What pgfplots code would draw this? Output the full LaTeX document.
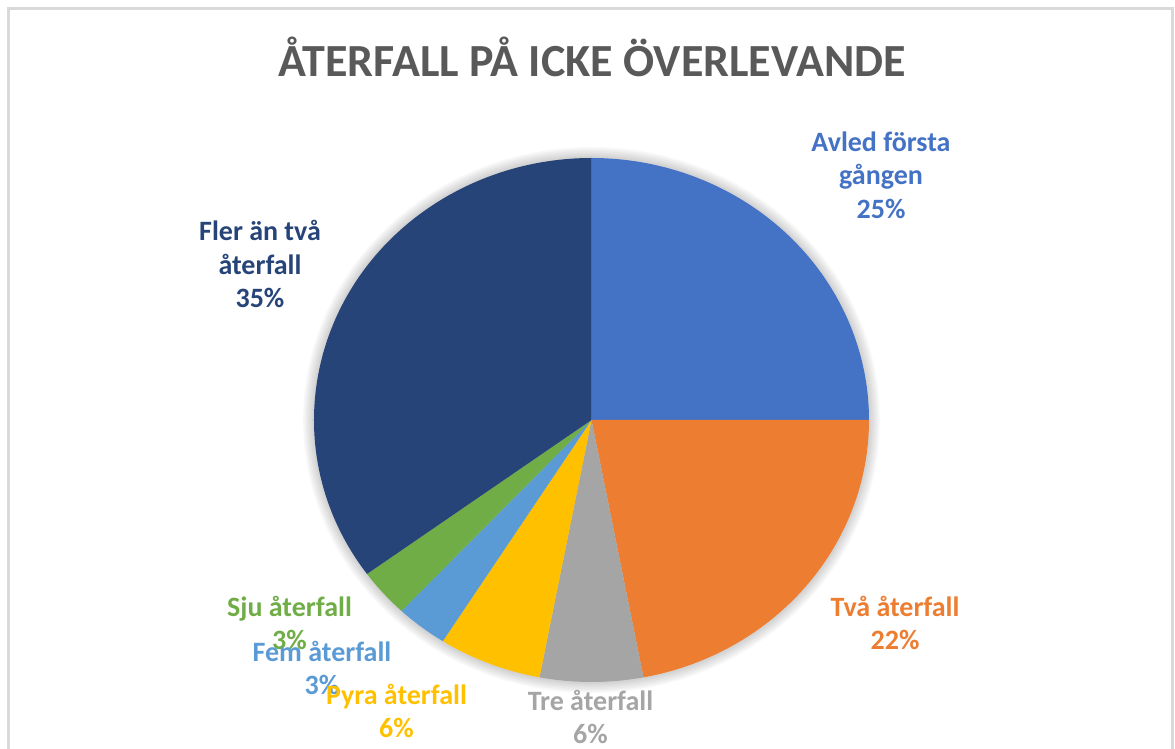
\documentclass[border=0pt]{standalone}
\usepackage{fontspec}
\setmainfont{Carlito}
\usepackage{pgfplots}
\pgfplotsset{compat=1.18}
\definecolor{slA}{HTML}{4472C4}
\definecolor{slB}{HTML}{ED7D31}
\definecolor{slC}{HTML}{A5A5A5}
\definecolor{slD}{HTML}{FFC000}
\definecolor{slE}{HTML}{5B9BD5}
\definecolor{slF}{HTML}{70AD47}
\definecolor{slG}{HTML}{264478}
\definecolor{titlegray}{HTML}{595959}
\definecolor{framegray}{HTML}{D9D9D9}
\tikzset{lbl/.style={font=\fontsize{14}{16.8}\selectfont\bfseries, align=center}}

\begin{document}
\begin{tikzpicture}
\path[use as bounding box] (0,0) rectangle (587.5pt,374.5pt);
\draw[framegray, line width=1.3pt] (4.3pt,-10pt) rectangle (586.1pt,370.3pt);
\begin{axis}[
    at={(0,0)}, anchor=south west,
    x=0.5pt, y=0.5pt,
    xmin=0, xmax=1175, ymin=0, ymax=749,
    disabledatascaling,
    hide axis, clip=false,
]
% soft shadow round the pie
\foreach \r in {1,...,6}{
  \edef\temp{\noexpand\fill[black, opacity=0.03] (axis cs:591.5,329) ellipse[x radius={138.75pt+\r*0.9pt}, y radius={131pt+\r*0.9pt}];}
  \temp
}
% slices, clockwise from the top
\gdef\acur{90}
\foreach \v/\c in {25/slA,22/slB,6/slC,6/slD,3/slE,3/slF,35/slG}{
  \pgfmathsetmacro\anext{\acur-3.6*\v}
  \edef\temp{\noexpand\fill[\c] (axis cs:591.5,329) -- (axis cs:{591.5+277.5*cos(\acur)},{329+262*sin(\acur)}) arc[start angle=\acur, end angle=\anext, x radius=138.75pt, y radius=131pt] -- cycle;}
  \temp
  \xdef\acur{\anext}
}
\node[font=\fontsize{23}{27}\selectfont\bfseries, text=titlegray] at (axis cs:592,692) {ÅTERFALL PÅ ICKE ÖVERLEVANDE};
\node[lbl, text=slA] at (axis cs:881,574) {Avled första\\gången\\25\%};
\node[lbl, text=slG] at (axis cs:260,485) {Fler än två\\återfall\\35\%};
\node[lbl, text=slB] at (axis cs:895,126) {Två återfall\\22\%};
\node[lbl, text=slC] at (axis cs:590.5,32) {Tre återfall\\6\%};
\node[lbl, text=slF] at (axis cs:289.5,126) {Sju återfall\\3\%};
\node[lbl, text=slE] at (axis cs:322,81) {Fem återfall\\3\%};
\node[lbl, text=slD] at (axis cs:396.5,38) {Pyra återfall\\6\%};
\end{axis}
\end{tikzpicture}
\end{document}
